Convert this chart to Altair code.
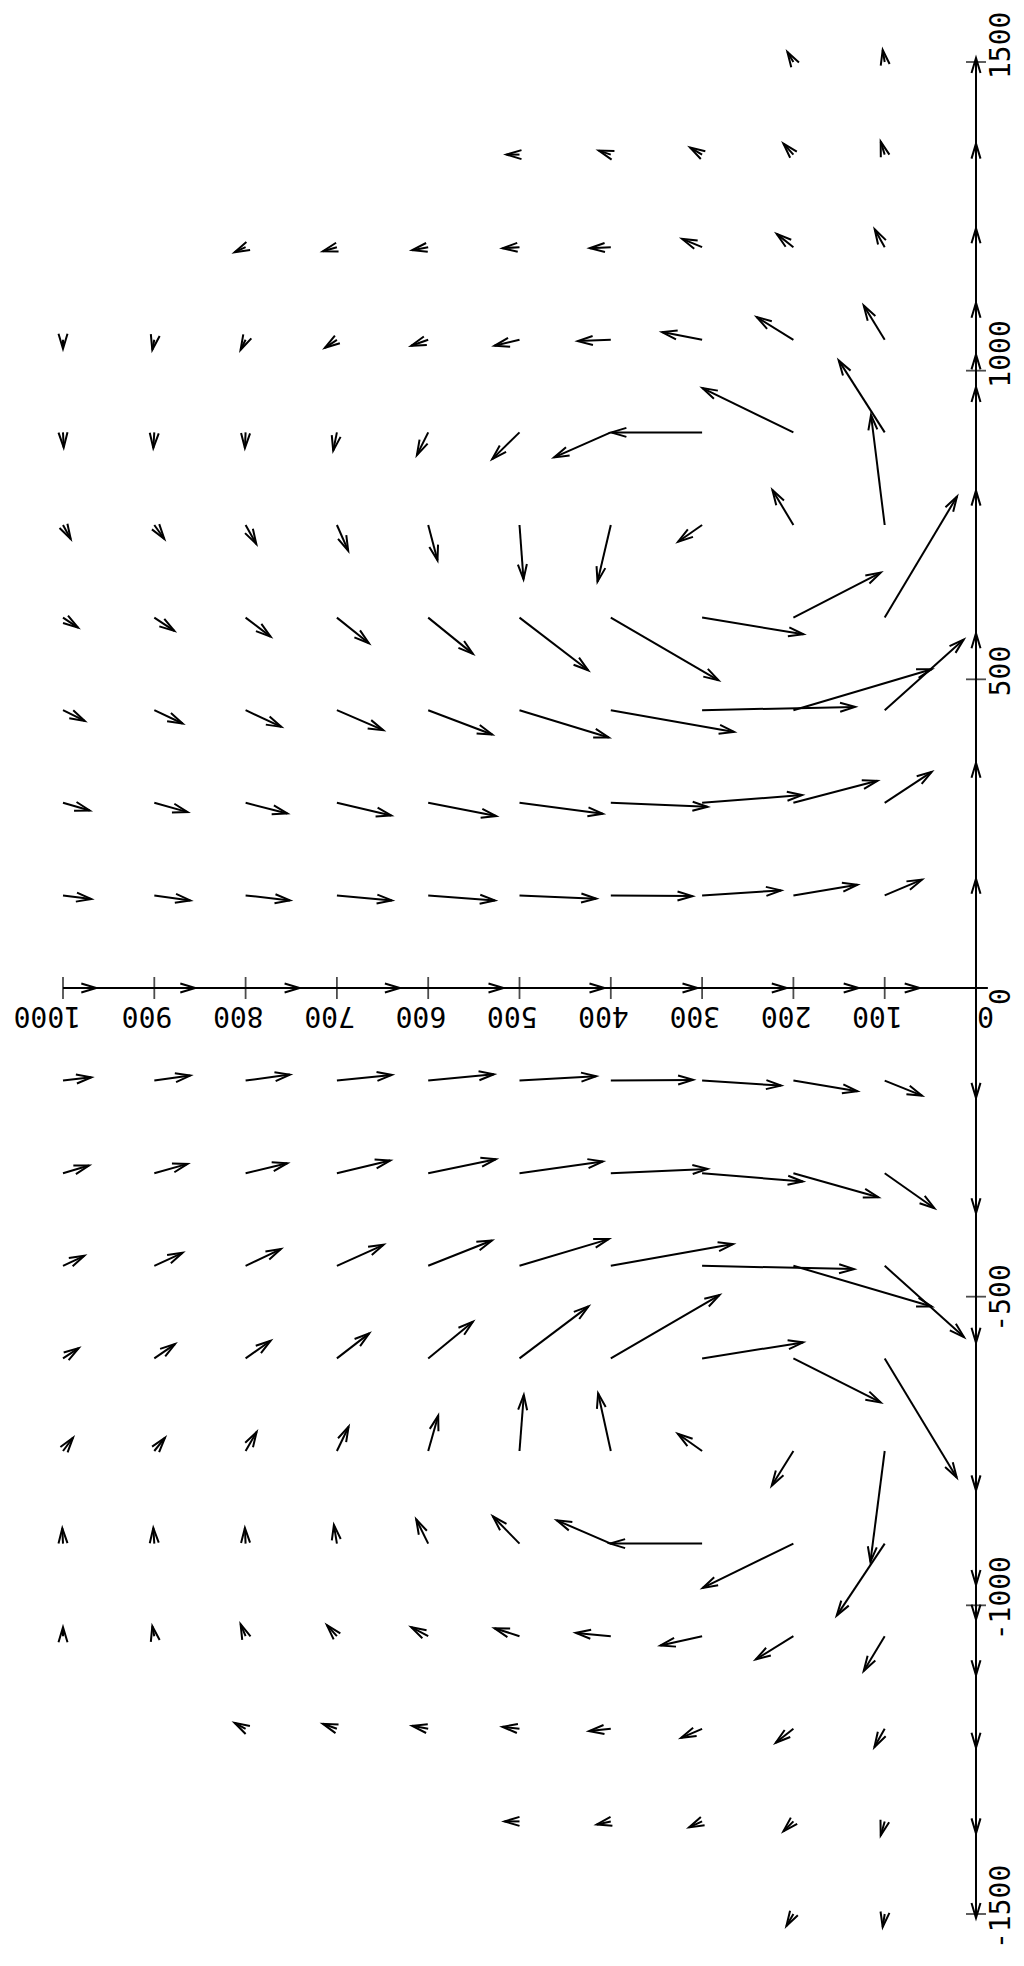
import math
import altair as alt
import pandas as pd

# Grid of the vector field (X along the long axis, Y along the short axis)
X_ROWS = [1500, 1350, 1200, 1050, 900, 750, 600, 450, 300, 150, 0,
          -150, -300, -450, -600, -750, -900, -1050, -1200, -1350, -1500]
Y_COLS = [0, 100, 200, 300, 400, 500, 600, 700, 800, 900, 1000]
N = None

# Velocity component along +Y, per row (Y = 0, 100, ... 1000)
VY = [
    [0, 2, 6],
    [0, 4, 10, 12, 12, 13],
    [0, 10, 16.7, 20, 21, 17, 16, 14, 11],
    [0, 21, 36.7, 40, 33, 25, 17, 12, 5, 2, 0],
    [0, 46, 91, 90.7, 56.7, 27.3, 11.3, 3.7, 0.7, 1, -0.7],
    [0, 13.7, 21, 24, 13.3, -4, -9.3, -11.3, -10.7, -10, -7.7],
    [0, -72.3, -87.3, -101.3, -107.7, -68.7, -44.7, -32, -25, -20, -15],
    [0, -79, -138.3, -153, -123.3, -89.3, -64, -46.3, -35.7, -28.3, -21.7],
    [0, -47, -84, -100, -96.7, -83.3, -68, -54.3, -41.7, -33.3, -26.7],
    [0, -37.3, -64, -79, -81.7, -76.7, -66.7, -55, -44.3, -36, -28.3],
    [N, -35, -65.3, -84.7, -86.7, -85, -75.3, -63, -54, -41, -33.3],
    [0, -37.3, -64, -79, -82.3, -76.7, -65.7, -55, -44.3, -36, -28.3],
    [0, -49.7, -85, -100.7, -96.7, -83.3, -67.7, -53.3, -41.7, -33.3, -26],
    [0, -79.3, -138.3, -152, -122.3, -89.3, -63.7, -46.7, -35.3, -28.3, -21.3],
    [0, -72, -87.3, -101, -108.7, -69, -44.7, -32.3, -25, -20.7, -15.7],
    [0, 14.3, 21.7, 24.3, 12.7, -4.3, -10, -11.7, -11, -10.7, -10],
    [0, 48, 90.7, 92, 54, 26.7, 12, 3, 0.7, 1, 0.7],
    [0, 21, 37.7, 41.7, 35, 25, 17, 10, 5, 2, 0],
    [0, 10.3, 17.7, 21, 21.7, 17, 16, 14, 11],
    [0, 4, 10, 13, 14, 15],
    [0, 2, 7],
]

# Velocity component along +X, per row (Y = 0, 100, ... 1000)
VX = [
    [4, 12, 10],
    [11, 13, 11, 7, 4, 0],
    [19, 18, 13.3, 8.3, -1, -1, -3, -4, -5],
    [37, 34.3, 22.7, 7.7, -1.3, -6, -6, -8, -10, -10, -9],
    [78, 72, 44.3, 0, -25, -26.7, -22.7, -18.3, -15.7, -15.7, -15],
    [138, 110, 35, -16.7, -56.7, -54.3, -35.3, -25.7, -19, -14, -14],
    [127, 121, 45, -16.7, -62.7, -52.7, -36.3, -25.7, -19, -13.3, -10],
    [77, 70.7, 41, 3.3, -21.7, -27.3, -24.3, -20, -16.7, -13.3, -10.7],
    [40, 31, 22, 7.7, -4, -11, -13.3, -12.7, -10.7, -9.3, -7.7],
    [16.7, 15.7, 10.7, 5, -0.7, -3.3, -5, -5, -5, -5, -3.7],
    [N, 0, 0, 0, 0, 0, 0, 0, 0, 0, 0],
    [-17.3, -15, -10.7, -5, 0.7, 4.3, 6.3, 5.7, 6, 5, 3.3],
    [-40, -35, -24, -8.3, 4.3, 11.7, 14, 12.7, 10, 9.3, 7.7],
    [-77, -71.3, -40.7, -3.3, 21.7, 26.7, 25.3, 21, 16.7, 13, 10],
    [-132, -119, -44, 16, 63.3, 52, 36.7, 25, 17.7, 14.3, 10.3],
    [-134, -110.7, -34.7, 17.3, 57.7, 56, 35.3, 24.3, 19, 13.3, 13.3],
    [-76, -72, -44.3, 0, 23.3, 27.3, 24.3, 18.7, 15.7, 15.7, 15.3],
    [-39, -34.7, -23.3, -9.3, 3.3, 8, 9, 11, 12, 10, 9],
    [-19, -18.3, -14, -9, -2.3, 2, 3, 5, 6],
    [-12, -14, -10, -6, -3, 0],
    [-4, -13, -12],
]

Y_TICKS = [0, 100, 200, 300, 400, 500, 600, 700, 800, 900, 1000]
X_TICKS = [-1500, -1000, -500, 0, 500, 1000, 1500]

# ---------------------------------------------------------------- layout
W, H = 913, 1852
Y_DOMAIN = [0, 1000]
X_DOMAIN = [-1500, 1500]
PX_PER_Y = W / (Y_DOMAIN[1] - Y_DOMAIN[0])
PX_PER_X = H / (X_DOMAIN[1] - X_DOMAIN[0])

recs = []
for i, xv in enumerate(X_ROWS):
    for j, yv in enumerate(Y_COLS):
        if j >= len(VY[i]) or VY[i][j] is None:
            continue
        vy, vx = VY[i][j], VX[i][j]
        # arrow drawn with 1 velocity unit = 1 screen pixel
        sx, sy = -vy, -vx
        ang = math.degrees(math.atan2(sy, sx)) % 360
        recs.append({"Y": yv, "X": xv,
                     "Y2": yv + vy / PX_PER_Y, "X2": xv + vx / PX_PER_X,
                     "ang": ang})
arrows = pd.DataFrame(recs)

ysc = alt.Scale(domain=Y_DOMAIN, reverse=True, nice=False, zero=False)
xsc = alt.Scale(domain=X_DOMAIN, nice=False, zero=False)

def enc_xy(xf, yf):
    return dict(x=alt.X(xf, scale=ysc, axis=None), y=alt.Y(yf, scale=xsc, axis=None))

LW = 2.0
shafts = alt.Chart(arrows).mark_rule(color="black", strokeWidth=LW).encode(
    x=alt.X("Y:Q", scale=ysc, axis=None), x2="Y2:Q",
    y=alt.Y("X:Q", scale=xsc, axis=None), y2="X2:Q")

HEAD = "M-1,-0.3L0,0L-1,0.3"
heads = alt.Chart(arrows).mark_point(
    shape=HEAD, filled=False, size=900, strokeWidth=LW, color="black", opacity=1
).encode(**enc_xy("Y2:Q", "X2:Q"), angle=alt.Angle("ang:Q", scale=None))

axis_lines = pd.DataFrame({"Y": [-13, 0], "Y2": [1000, 0],
                           "X": [0, -1500], "X2": [0, 1500]})
axes = alt.Chart(axis_lines).mark_rule(color="black", strokeWidth=LW).encode(
    x=alt.X("Y:Q", scale=ysc, axis=None), x2="Y2:Q",
    y=alt.Y("X:Q", scale=xsc, axis=None), y2="X2:Q")

ytk = pd.DataFrame({"Y": Y_TICKS, "X": [0] * len(Y_TICKS),
                    "label": [str(v) for v in Y_TICKS]})
xtk = pd.DataFrame({"Y": [0] * len(X_TICKS), "X": X_TICKS,
                    "label": [str(v) for v in X_TICKS]})

yticks = alt.Chart(ytk[ytk["Y"] > 0]).mark_tick(
    orient="vertical", size=22, thickness=1.8, color="black").encode(**enc_xy("Y:Q", "X:Q"))
xticks = alt.Chart(xtk).mark_tick(
    orient="horizontal", size=20, thickness=1.8, color="black").encode(**enc_xy("Y:Q", "X:Q"))

FONT = "DejaVu Sans Mono"
ylabels = alt.Chart(ytk).mark_text(
    angle=180, align="left", baseline="alphabetic", dx=-18, dy=-19,
    font=FONT, fontSize=28, color="black").encode(**enc_xy("Y:Q", "X:Q"), text="label:N")
xlabels_pos = alt.Chart(xtk[xtk["X"] >= 0]).mark_text(
    angle=270, align="left", baseline="alphabetic", dx=-17, dy=34,
    font=FONT, fontSize=28, color="black").encode(**enc_xy("Y:Q", "X:Q"), text="label:N")
xlabels_neg = alt.Chart(xtk[xtk["X"] < 0]).mark_text(
    angle=270, align="left", baseline="alphabetic", dx=-35, dy=34,
    font=FONT, fontSize=28, color="black").encode(**enc_xy("Y:Q", "X:Q"), text="label:N")

chart = alt.layer(axes, yticks, xticks, shafts, heads, ylabels, xlabels_pos, xlabels_neg).properties(
    width=W, height=H,
    padding={"left": 55, "top": 54, "right": 40, "bottom": 44},
    autosize=alt.AutoSizeParams(type="none"),
    background="white",
).configure_view(stroke=None)

chart.save("out.html", embed_options={"renderer": "svg", "actions": False})
